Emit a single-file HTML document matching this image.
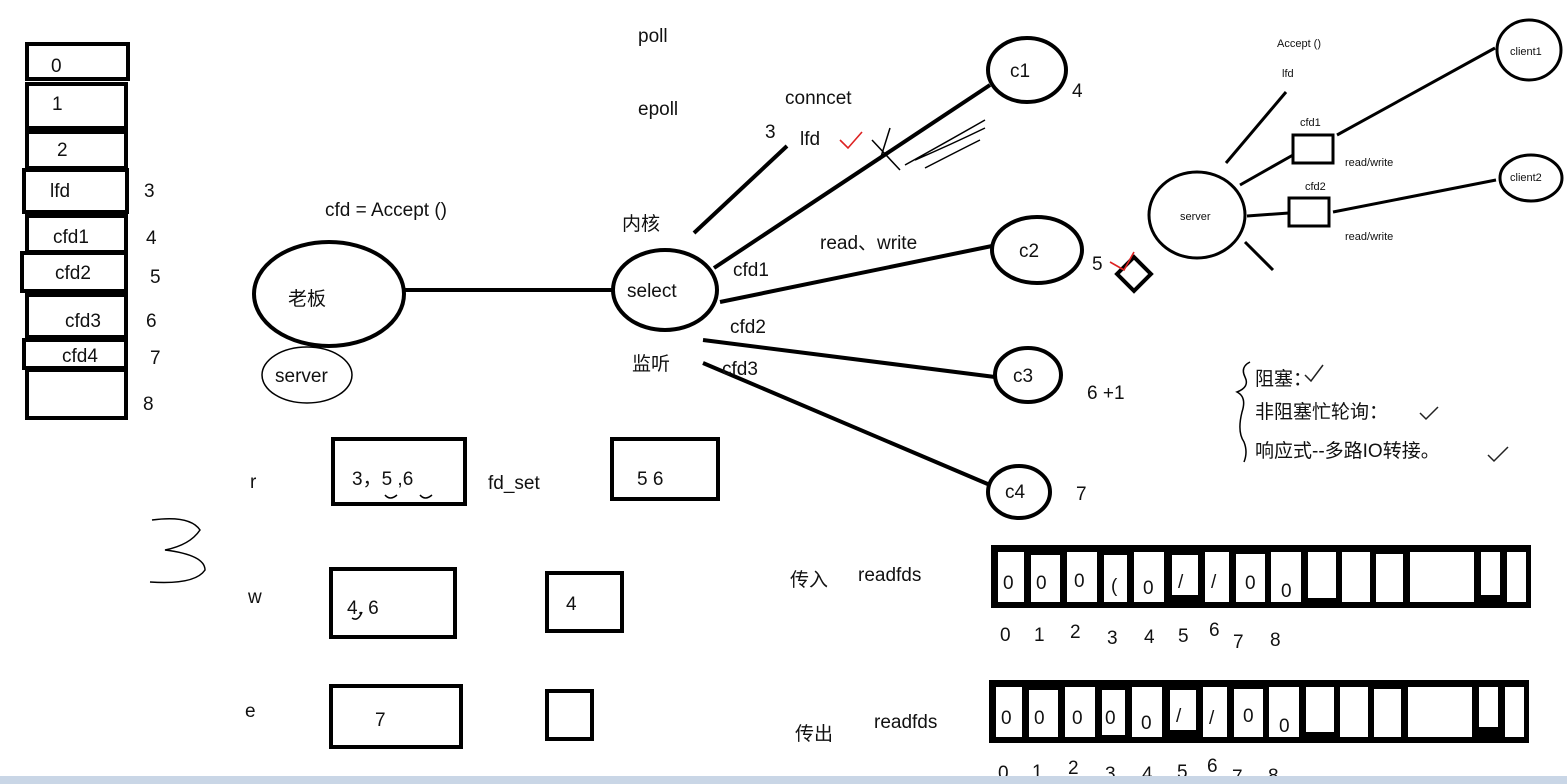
<!DOCTYPE html>
<html><head><meta charset="utf-8"><style>
html,body{margin:0;padding:0;background:#fff;width:1567px;height:784px;overflow:hidden}
svg{display:block}
text{font-family:"Liberation Sans","Noto Sans CJK SC",sans-serif;fill:#111}
</style></head><body>
<svg width="1567" height="784" viewBox="0 0 1567 784" xmlns="http://www.w3.org/2000/svg">
<g fill="none" stroke="#000" stroke-width="4">
<rect x="27" y="44" width="101" height="35"/>
<rect x="27" y="84" width="99" height="44"/>
<rect x="27" y="132" width="99" height="36"/>
<rect x="24" y="170" width="103" height="42"/>
<rect x="27" y="216" width="99" height="36"/>
<rect x="22" y="253" width="104" height="38"/>
<rect x="27" y="295" width="99" height="42"/>
<rect x="24" y="340" width="102" height="28"/>
<rect x="27" y="370" width="99" height="48"/>
<ellipse cx="329" cy="294" rx="75" ry="52"/>
<ellipse cx="665" cy="290" rx="52" ry="40"/>
<ellipse cx="1027" cy="70" rx="39" ry="32"/>
<ellipse cx="1037" cy="250" rx="45" ry="33"/>
<ellipse cx="1028" cy="375" rx="33" ry="27"/>
<ellipse cx="1019" cy="492" rx="31" ry="26"/>
<line x1="404" y1="290" x2="613" y2="290"/>
<line x1="694" y1="233" x2="787" y2="146"/>
<line x1="714" y1="268" x2="990" y2="85"/>
<line x1="720" y1="302" x2="992" y2="246"/>
<line x1="703" y1="340" x2="995" y2="377"/>
<line x1="703" y1="363" x2="990" y2="485"/>
<rect x="1122" y="262" width="24" height="24" transform="rotate(45 1134 274)"/>
<rect x="333" y="439" width="132" height="65"/>
<rect x="612" y="439" width="106" height="60"/>
<rect x="331" y="569" width="124" height="68"/>
<rect x="547" y="573" width="75" height="58"/>
<rect x="331" y="686" width="130" height="61"/>
<rect x="547" y="691" width="45" height="48"/>
</g>
<g fill="none" stroke="#000" stroke-width="1.5">
<ellipse cx="307" cy="375" rx="45" ry="28"/>
<path d="M152 520 Q190 515 200 530 Q190 545 165 550 Q205 555 205 570 Q195 585 150 582"/>
<path d="M880 160 L890 128 M872 140 L900 170 M905 165 Q950 140 985 120 M915 160 Q950 145 985 128 M925 168 Q960 150 980 140"/>
<path d="M385 495 q5 6 12 0 M420 495 q5 6 12 0 M352 618 q6 4 10 -6"/>
<path d="M1250 362 q-10 5 -5 15 q5 10 -8 15 q10 5 5 20 q-5 20 2 30 q4 10 0 20"/>
</g>
<g stroke="#d22" stroke-width="1.6" fill="none">
<path d="M840 140 l8 8 l14 -16"/><path d="M1110 262 l14 8 l10 -18"/>
</g>
<g stroke="#222" stroke-width="1.5" fill="none">
<path d="M1305 375 l6 6 l12 -16"/><path d="M1420 413 l6 6 l12 -12"/><path d="M1488 455 l6 6 l14 -14"/>
</g>
<g fill="none" stroke="#000" stroke-width="3">
<ellipse cx="1197" cy="215" rx="48" ry="43"/>
<ellipse cx="1529" cy="50" rx="32" ry="30"/>
<ellipse cx="1531" cy="178" rx="31" ry="23"/>
<line x1="1226" y1="163" x2="1286" y2="92"/>
<line x1="1240" y1="185" x2="1293" y2="155"/>
<rect x="1293" y="135" width="40" height="28"/>
<line x1="1337" y1="135" x2="1495" y2="48"/>
<line x1="1247" y1="216" x2="1289" y2="213"/>
<rect x="1289" y="198" width="40" height="28"/>
<line x1="1333" y1="212" x2="1496" y2="180"/>
<line x1="1245" y1="242" x2="1273" y2="270"/>
</g>
<g font-size="11">
<text x="1277" y="47">Accept ()</text><text x="1282" y="77">lfd</text>
<text x="1300" y="126">cfd1</text><text x="1305" y="190">cfd2</text>
<text x="1345" y="166">read/write</text><text x="1345" y="240">read/write</text>
<text x="1180" y="220">server</text><text x="1510" y="55">client1</text><text x="1510" y="181">client2</text>
</g>
<g>
<rect x="991" y="545" width="540" height="63" fill="#000"/>
<rect x="989" y="680" width="540" height="63" fill="#000"/>
<g fill="#fff">
<rect x="998" y="552" width="26" height="50"/><rect x="1031" y="555" width="29" height="47"/><rect x="1067" y="552" width="30" height="50"/><rect x="1104" y="555" width="23" height="47"/><rect x="1134" y="552" width="30" height="50"/><rect x="1172" y="555" width="26" height="40"/><rect x="1205" y="552" width="24" height="50"/><rect x="1236" y="554" width="29" height="48"/><rect x="1271" y="552" width="30" height="50"/><rect x="1308" y="552" width="28" height="46"/><rect x="1342" y="552" width="28" height="50"/><rect x="1376" y="554" width="27" height="48"/><rect x="1410" y="552" width="64" height="50"/><rect x="1481" y="552" width="19" height="43"/><rect x="1507" y="552" width="19" height="50"/>
<rect x="996" y="687" width="26" height="50"/><rect x="1029" y="690" width="29" height="47"/><rect x="1065" y="687" width="30" height="50"/><rect x="1102" y="690" width="23" height="45"/><rect x="1132" y="687" width="30" height="50"/><rect x="1170" y="690" width="26" height="40"/><rect x="1203" y="687" width="24" height="50"/><rect x="1234" y="689" width="29" height="48"/><rect x="1269" y="687" width="30" height="50"/><rect x="1306" y="687" width="28" height="45"/><rect x="1340" y="687" width="28" height="50"/><rect x="1374" y="689" width="27" height="48"/><rect x="1408" y="687" width="64" height="50"/><rect x="1479" y="687" width="19" height="40"/><rect x="1505" y="687" width="19" height="50"/>
</g>
<g font-size="19">
<text x="1003" y="589">0</text><text x="1036" y="589">0</text><text x="1074" y="587">0</text><text x="1111" y="592">(</text><text x="1143" y="594">0</text><text x="1178" y="588">/</text><text x="1211" y="588">/</text><text x="1245" y="589">0</text><text x="1281" y="597">0</text>
<text x="1001" y="724">0</text><text x="1034" y="724">0</text><text x="1072" y="724">0</text><text x="1105" y="724">0</text><text x="1141" y="729">0</text><text x="1176" y="722">/</text><text x="1209" y="724">/</text><text x="1243" y="722">0</text><text x="1279" y="732">0</text>
<text x="1000" y="641">0</text><text x="1034" y="641">1</text><text x="1070" y="638">2</text><text x="1107" y="644">3</text><text x="1144" y="643">4</text><text x="1178" y="642">5</text><text x="1209" y="636">6</text><text x="1233" y="648">7</text><text x="1270" y="646">8</text>
<text x="998" y="779">0</text><text x="1032" y="778">1</text><text x="1068" y="774">2</text><text x="1105" y="780">3</text><text x="1142" y="780">4</text><text x="1177" y="778">5</text><text x="1207" y="772">6</text><text x="1232" y="783">7</text><text x="1268" y="782">8</text>
</g>
</g>
<rect x="0" y="776" width="1567" height="8" fill="#c9d6e6"/>
<g font-size="19">
<text x="51" y="72">0</text><text x="52" y="110">1</text><text x="57" y="156">2</text><text x="50" y="197">lfd</text><text x="53" y="243">cfd1</text><text x="55" y="279">cfd2</text><text x="65" y="327">cfd3</text><text x="62" y="362">cfd4</text>
<text x="144" y="197">3</text><text x="146" y="244">4</text><text x="150" y="283">5</text><text x="146" y="327">6</text><text x="150" y="364">7</text><text x="143" y="410">8</text>
<text x="638" y="42">poll</text><text x="638" y="115">epoll</text><text x="785" y="104">conncet</text>
<text x="765" y="138">3</text><text x="800" y="145">lfd</text>
<text x="325" y="216">cfd =  Accept ()</text>
<text x="622" y="230">内核</text><text x="288" y="305">老板</text><text x="627" y="297">select</text>
<text x="275" y="382">server</text><text x="632" y="370">监听</text>
<text x="820" y="249">read、write</text><text x="733" y="276">cfd1</text><text x="730" y="333">cfd2</text><text x="722" y="375">cfd3</text>
<text x="1010" y="77">c1</text><text x="1072" y="97">4</text><text x="1019" y="257">c2</text><text x="1092" y="270">5</text>
<text x="1013" y="382">c3</text><text x="1087" y="399">6 +1</text><text x="1005" y="498">c4</text><text x="1076" y="500">7</text>
<text x="250" y="488">r</text><text x="352" y="485">3，5 ,6</text><text x="488" y="489">fd_set</text><text x="637" y="485">5   6</text>
<text x="248" y="603">w</text><text x="347" y="614">4,  6</text><text x="566" y="610">4</text>
<text x="245" y="717">e</text><text x="375" y="726">7</text>
<text x="790" y="586">传入</text><text x="858" y="581">readfds</text>
<text x="795" y="740">传出</text><text x="874" y="728">readfds</text>
<text x="1255" y="385">阻塞：</text><text x="1255" y="418">非阻塞忙轮询：</text><text x="1255" y="457">响应式--多路IO转接。</text>
</g>
</svg>
</body></html>
